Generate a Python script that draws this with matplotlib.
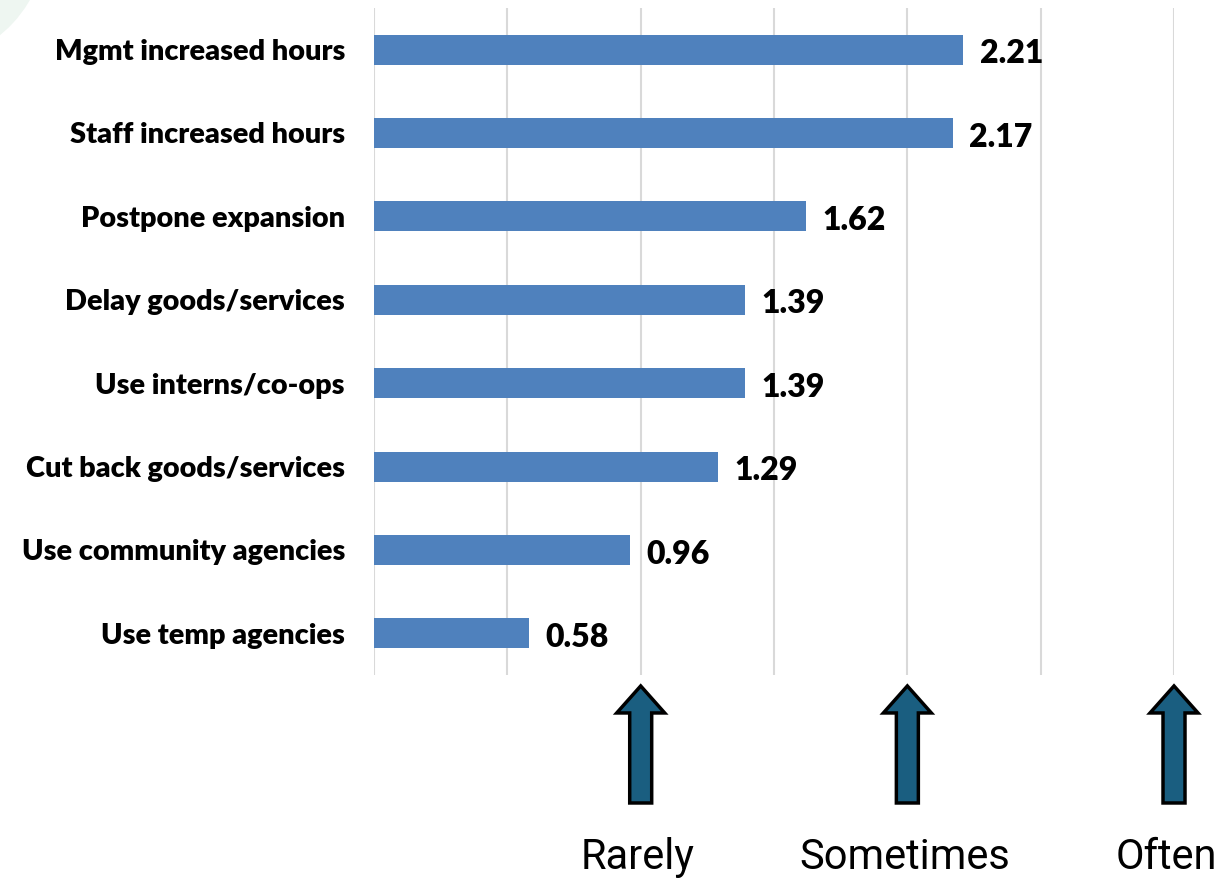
"""Horizontal bar chart of coping strategies with frequency arrows underneath."""

import matplotlib.pyplot as plt
from matplotlib.patches import Ellipse, Polygon

categories = [
    "Mgmt increased hours",
    "Staff increased hours",
    "Postpone expansion",
    "Delay goods/services",
    "Use interns/co-ops",
    "Cut back goods/services",
    "Use community agencies",
    "Use temp agencies",
]
values = [2.21, 2.17, 1.62, 1.39, 1.39, 1.29, 0.96, 0.58]
scale_labels = ["Rarely", "Sometimes", "Often"]
scale_values = [1, 2, 3]

plt.rcParams["font.family"] = ["Lato", "DejaVu Sans"]

fig = plt.figure(figsize=(12.2, 8.8), dpi=100)

# faint decorative corner shape
fig.patches.append(Ellipse((-0.06, 1.08), 0.2, 0.3, transform=fig.transFigure,
                           facecolor="#eef6f1", edgecolor="none", zorder=0))

ax = fig.add_axes([0.3066, 0.233, 0.6557, 0.758])
y = list(range(len(categories)))
ax.barh(y, values, height=0.36, color="#4f81bd", zorder=2)
for yi, v in zip(y, values):
    ax.annotate(f"{v:.2f}", (v, yi), xytext=(12, -3), textcoords="offset points",
                ha="left", va="center", fontsize=23, fontweight="heavy")

ax.set_xlim(0, 3)
ax.set_ylim(len(categories) - 0.5, -0.5)
ax.set_xticks([0, 0.5, 1, 1.5, 2, 2.5, 3])
ax.set_xticklabels([])
ax.tick_params(axis="x", length=0)
ax.set_yticks(y)
ax.set_yticklabels(categories, fontsize=20.8, fontweight="heavy")
ax.tick_params(axis="y", length=0, pad=21)
ax.grid(axis="x", color="#d9d9d9", linewidth=1.5, zorder=0)
ax.set_axisbelow(True)
for s in ax.spines.values():
    s.set_visible(False)

# arrow strip below the chart, y in pixels from the bottom
ax2 = fig.add_axes([0.3066, 0.0, 0.6557, 0.233])
ax2.set_xlim(0, 3)
ax2.set_ylim(0, 205)
ax2.axis("off")
px = 3 / 800  # data units per pixel
for xv, lab in zip(scale_values, scale_labels):
    sw, hw = 11 * px, 24 * px
    pts = [(xv - sw, 77), (xv + sw, 77), (xv + sw, 167), (xv + hw, 167),
           (xv, 194), (xv - hw, 167), (xv - sw, 167)]
    ax2.add_patch(Polygon(pts, closed=True, facecolor="#1a5e80", edgecolor="black",
                          linewidth=2.5, clip_on=False))
    ax2.text(xv - (0.01 if xv < 3 else 0.03), 22, lab, ha="center", va="center",
             fontsize=30, family=["Roboto", "DejaVu Sans"], clip_on=False)

fig.savefig("out.png")
